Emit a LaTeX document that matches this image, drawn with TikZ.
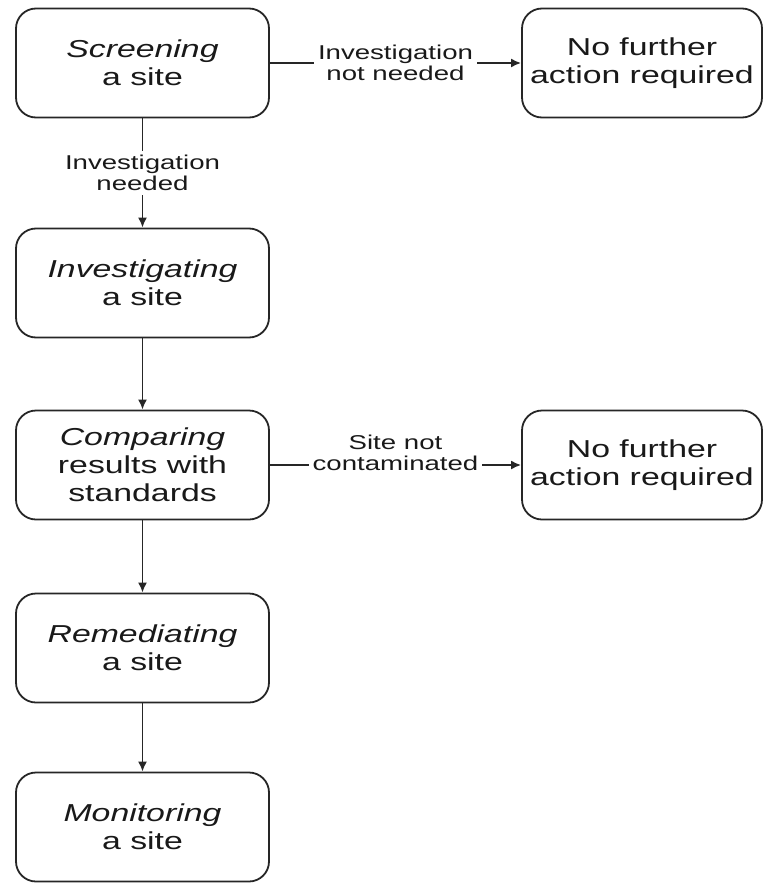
\documentclass[tikz,border=0pt]{standalone}
\usepackage{fontspec}
\setmainfont{Liberation Sans}[FakeStretch=1.38]
\usetikzlibrary{arrows.meta}

\begin{document}
\begin{tikzpicture}[x=1pt,y=1pt,
    stage/.style={draw=black!85, line width=1.8pt, rounded corners=20pt,
        minimum width=253pt, minimum height=109pt, align=center,
        text=black!90, font=\fontsize{24.5}{28}\selectfont},
    flow/.style={draw=black!85, line width=1.8pt, -{Latex[length=10pt,width=9pt]}},
    cond/.style={fill=white, inner sep=4pt, align=center,
        text=black!90, font=\fontsize{20}{21}\selectfont}]
    \def\xl{142.5} % x of the left column
    \def\xr{642} % x of the right column
    \useasboundingbox (0,0) rectangle (764,-883);

    % main column
    \node[stage] (scr) at (\xl,-63) {\textit{Screening}\\a site};
    \node[stage] (inv) at (\xl,-283) {\textit{Investigating}\\a site};
    \node[stage] (cmp) at (\xl,-465) {\textit{Comparing}\\results with\\standards};
    \node[stage] (rem) at (\xl,-648) {\textit{Remediating}\\a site};
    \node[stage] (mon) at (\xl,-827) {\textit{Monitoring}\\a site};

    % exits
    \node[stage, minimum width=240pt] (nfa1) at (\xr,-63) {No further\\action required};
    \node[stage, minimum width=240pt] (nfa2) at (\xr,-465) {No further\\action required};

    \draw[flow] (scr) -- node[cond] {Investigation\\not needed} (nfa1);
    \draw[flow] (scr) -- node[cond] {Investigation\\needed} (inv);
    \foreach \a/\b in {inv/cmp, cmp/rem, rem/mon}
        \draw[flow] (\a) -- (\b);
    \draw[flow] (cmp) -- node[cond, yshift=12pt] {Site not\\contaminated} (nfa2);
\end{tikzpicture}
\end{document}
